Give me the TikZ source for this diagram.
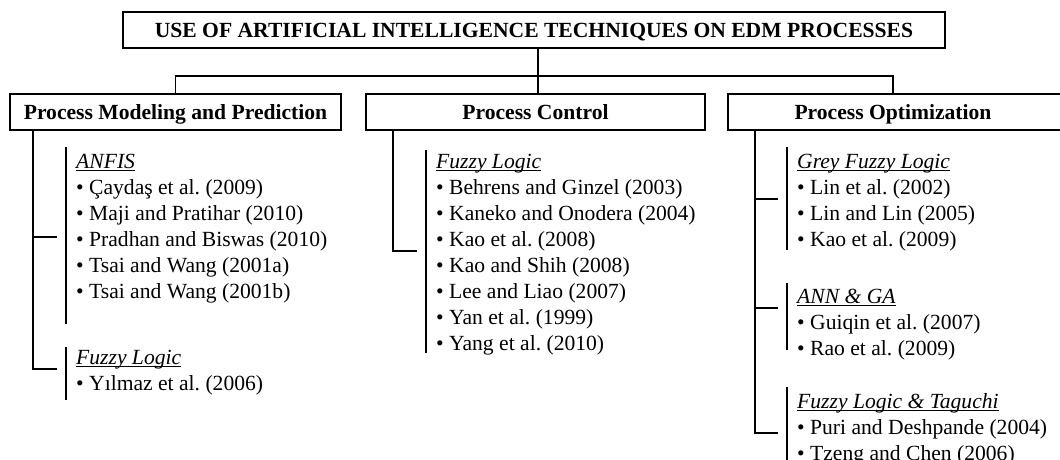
\documentclass[tikz,border=0pt]{standalone}
\usepackage{fontspec}
\setmainfont{Liberation Serif}
\frenchspacing
\begin{document}
\begin{tikzpicture}[x=1pt,y=-1pt,
  box/.style={draw, line width=1.6pt, inner sep=0pt, minimum height=36pt,
    text height=14pt, text depth=0pt,
    font=\fontsize{21.6}{26}\selectfont\bfseries},
  ln/.style={line width=1.6pt},
  brk/.style={line width=1.4pt},
  ul/.style={line width=1pt},
  txt/.style={anchor=base west, inner sep=0pt, font=\fontsize{21.6}{26}\selectfont},
  hd/.style={txt, font=\fontsize{21.6}{26}\selectfont\itshape},
]
\useasboundingbox (0,0) rectangle (1060,459);
\clip (0,0) rectangle (1060,459);

% title and category boxes
\node[box, minimum width=822pt] (title) at (534,30) {USE OF ARTIFICIAL INTELLIGENCE TECHNIQUES ON EDM PROCESSES};
\node[box, minimum width=331pt] (b1) at (175.5,112) {Process Modeling and Prediction};
\node[box, minimum width=339pt] (b2) at (535.5,112) {Process Control};
\node[box, minimum width=334pt] (b3) at (895,112) {\hspace*{-4pt}Process Optimization};

% top connectors
\coordinate (hub) at (538,76);
\coordinate (j3) at (893,94);
\draw[ln] (title.south -| hub) -- (b2.north -| hub);
\draw[ln] (b1.north) |- (hub) -| (j3);

% stems and ticks
\coordinate (s1) at (33,130);
\coordinate (t1a) at (57,237);
\coordinate (t1b) at (57,369);
\draw[ln] (s1) |- (t1b);
\draw[ln] (t1a -| s1) -- (t1a);

\coordinate (s2) at (393,130);
\coordinate (t2a) at (417,251);
\draw[ln] (s2) |- (t2a);

\coordinate (s3) at (755,130);
\coordinate (t3a) at (778,199);
\coordinate (t3b) at (778,308);
\coordinate (t3c) at (778,433);
\draw[ln] (s3) |- (t3c);
\draw[ln] (t3a -| s3) -- (t3a);
\draw[ln] (t3b -| s3) -- (t3b);

% brackets
\draw[brk] (66,147) -- (66,324);
\draw[brk] (66,347) -- (66,400);
\draw[brk] (426,150) -- (426,353);
\draw[brk] (787,147) -- (787,250);
\draw[brk] (787,283) -- (787,350);
\draw[brk] (787,387) -- (787,462);

% column 1
\node[hd] (h1a) at (76,168) {ANFIS};
\draw[ul] ([yshift=-2.5pt]h1a.base west) -- ([yshift=-2.5pt]h1a.base east);
\foreach \t [count=\i] in {Çaydaş et al. (2009), Maji and Pratihar (2010), Pradhan and Biswas (2010), Tsai and Wang (2001a), Tsai and Wang (2001b)}
  \node[txt] (c1a\i) at (76,168+26*\i) {• \t};
\node[hd] (h1b) at (76,364) {Fuzzy Logic};
\draw[ul] ([yshift=-2.5pt]h1b.base west) -- ([yshift=-2.5pt]h1b.base east);
\node[txt] (c1b1) at (76,390) {• Yılmaz et al. (2006)};

% column 2
\node[hd] (h2a) at (436,168) {Fuzzy Logic};
\draw[ul] ([yshift=-2.5pt]h2a.base west) -- ([yshift=-2.5pt]h2a.base east);
\foreach \t [count=\i] in {Behrens and Ginzel (2003), Kaneko and Onodera (2004), Kao et al. (2008), Kao and Shih (2008), Lee and Liao (2007), Yan et al. (1999), Yang et al. (2010)}
  \node[txt] (c2a\i) at (436,168+26*\i) {• \t};

% column 3
\node[hd] (h3a) at (797,168) {Grey Fuzzy Logic};
\draw[ul] ([yshift=-2.5pt]h3a.base west) -- ([yshift=-2.5pt]h3a.base east);
\foreach \t [count=\i] in {Lin et al. (2002), Lin and Lin (2005), Kao et al. (2009)}
  \node[txt] (c3a\i) at (797,168+26*\i) {• \t};

\node[hd] (h3b) at (797,303) {ANN \& GA};
\draw[ul] ([yshift=-2.5pt]h3b.base west) -- ([yshift=-2.5pt]h3b.base east);
\foreach \t [count=\i] in {Guiqin et al. (2007), Rao et al. (2009)}
  \node[txt] (c3b\i) at (797,303+26*\i) {• \t};

\node[hd] (h3c) at (797,408) {Fuzzy Logic \& Taguchi};
\draw[ul] ([yshift=-2.5pt]h3c.base west) -- ([yshift=-2.5pt]h3c.base east);
\foreach \t [count=\i] in {Puri and Deshpande (2004), Tzeng and Chen (2006)}
  \node[txt] (c3c\i) at (797,408+26*\i) {• \t};
\end{tikzpicture}
\end{document}
